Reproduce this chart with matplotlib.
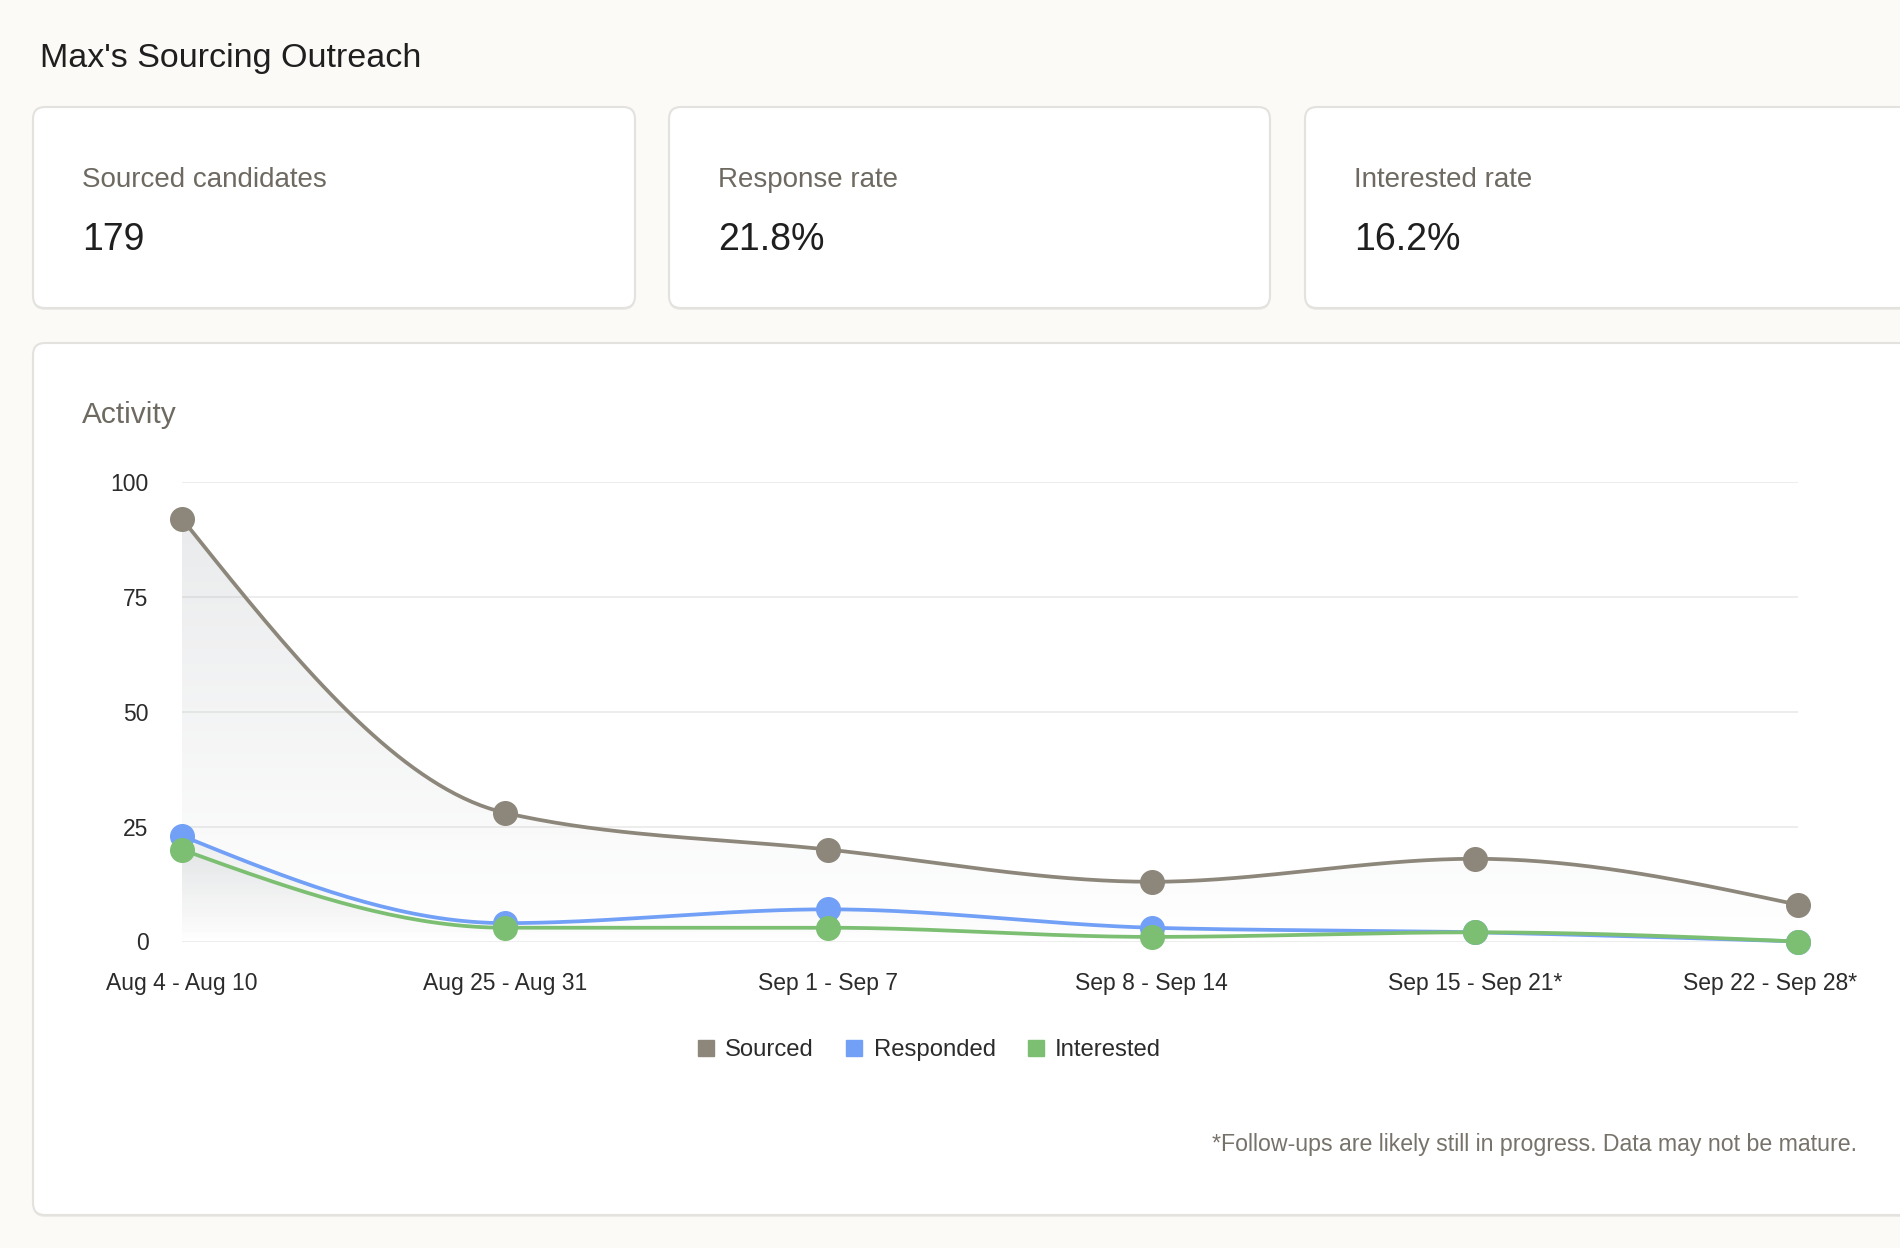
import numpy as np
import matplotlib
matplotlib.use('Agg')
from matplotlib import pyplot as plt
from matplotlib.patches import FancyBboxPatch
from matplotlib.lines import Line2D
from matplotlib.transforms import ScaledTranslation

plt.rcParams['font.family'] = ['Liberation Sans', 'DejaVu Sans']

# data
weeks = ['Aug 4 - Aug 10', 'Aug 25 - Aug 31', 'Sep 1 - Sep 7',
         'Sep 8 - Sep 14', 'Sep 15 - Sep 21*', 'Sep 22 - Sep 28*']
sourced = [92, 28, 20, 13, 18, 8]
responded = [23, 4, 7, 3, 2, 0]
interested = [20, 3, 3, 1, 2, 0]

kpi_labels = ['Sourced candidates', 'Response rate', 'Interested rate']
kpi_values = ['179', '21.8%', '16.2%']

series_names = ['Sourced', 'Responded', 'Interested']
series_colors = ['#8d877b', '#72a0f7', '#7cbf73']

W, H = 1900, 1248
bg = '#fcfaf7'


def sgn(v):
    return -1.0 if v < 0 else 1.0


def monotone(xs, ys, n=40):
    # same smoothing as a d3 'monotoneX' line
    xs = np.asarray(xs, float)
    ys = np.asarray(ys, float)
    npt = len(ys)
    h = np.diff(xs)
    s = np.diff(ys) / h
    m = np.zeros(npt)
    for k in range(1, npt - 1):
        p = (s[k - 1] * h[k] + s[k] * h[k - 1]) / (h[k - 1] + h[k])
        m[k] = (sgn(s[k - 1]) + sgn(s[k])) * min(abs(s[k - 1]), abs(s[k]), 0.5 * abs(p))
    m[0] = (3 * s[0] - m[1]) / 2
    m[-1] = (3 * s[-1] - m[-2]) / 2
    px, py = [], []
    for k in range(npt - 1):
        t = np.linspace(0, 1, n)
        h00 = 2 * t**3 - 3 * t**2 + 1
        h10 = t**3 - 2 * t**2 + t
        h01 = -2 * t**3 + 3 * t**2
        h11 = t**3 - t**2
        px.append(xs[k] + t * h[k])
        py.append(h00 * ys[k] + h10 * h[k] * m[k] + h01 * ys[k + 1] + h11 * h[k] * m[k + 1])
    return np.concatenate(px), np.concatenate(py)


fig = plt.figure(figsize=(W / 100, H / 100), dpi=100)
fig.patch.set_facecolor(bg)

# background layer in pixel coords for the cards
bgax = fig.add_axes([0, 0, 1, 1], zorder=0)
bgax.set_xlim(0, W)
bgax.set_ylim(H, 0)
bgax.axis('off')


def card(x0, y0, x1, y1):
    sh = FancyBboxPatch((x0, y0 + 2), x1 - x0, y1 - y0,
                        boxstyle='round,pad=0,rounding_size=12',
                        fc='#ecebe8', ec='none')
    bgax.add_patch(sh)
    c = FancyBboxPatch((x0, y0), x1 - x0, y1 - y0,
                       boxstyle='round,pad=0,rounding_size=12',
                       fc='white', ec='#e3e2df', lw=1.5)
    bgax.add_patch(c)


bgax.text(40, 59, "Max's Sourcing Outreach", fontsize=24.5, color='#1f1f1f',
          va='center', ha='left')

card_x = [(33, 635), (669, 1270), (1305, 1930)]
for i in range(3):
    x0, x1 = card_x[i]
    card(x0, 107, x1, 308)
    bgax.text(x0 + 49, 180, kpi_labels[i], fontsize=20, color='#6e6a62',
              va='center', ha='left')
    bgax.text(x0 + 49, 240, kpi_values[i], fontsize=27, color='#1f1f1f',
              va='center', ha='left')

card(33, 343, 1930, 1215)
bgax.text(82, 415, 'Activity', fontsize=21.5, color='#6e6a62', va='center', ha='left')
bgax.text(1857, 1145, '*Follow-ups are likely still in progress. Data may not be mature.',
          fontsize=16.7, color='#77736b', va='center', ha='right')

# chart
ax = fig.add_axes([182 / W, 1 - 941.5 / H, (1798 - 182) / W, (941.5 - 482) / H], zorder=1)
ax.set_facecolor('none')
x = np.arange(len(weeks))
all_series = [sourced, responded, interested]
fill_alpha = [0.22, 0.13, 0.13]

for vals, a in zip(all_series, fill_alpha):
    cx, cy = monotone(x, vals)
    top = max(vals)
    poly = ax.fill_between(cx, 0, cy, color='none', lw=0)
    grad = np.zeros((100, 1, 4))
    grad[:, 0, 0] = 0.62
    grad[:, 0, 1] = 0.64
    grad[:, 0, 2] = 0.66
    grad[:, 0, 3] = np.linspace(a, 0.0, 100)
    im = ax.imshow(grad, extent=[0, len(weeks) - 1, 0, top], origin='upper',
                   aspect='auto', zorder=1, interpolation='bilinear')
    im.set_clip_path(poly.get_paths()[0], transform=ax.transData)

for vals, col, name in zip(all_series, series_colors, series_names):
    cx, cy = monotone(x, vals)
    ax.plot(cx, cy, color=col, lw=2.7, zorder=3, solid_capstyle='round', clip_on=False)
    ax.plot(x, vals, 'o', color=col, ms=17, zorder=4, clip_on=False, label=name)

ax.set_xlim(0, len(weeks) - 1)
ax.set_ylim(0, 100)
ax.set_yticks([0, 25, 50, 75, 100])
ax.set_xticks(x)
ax.set_xticklabels(weeks)
ax.grid(axis='y', color='#ececec', lw=1.3)
ax.set_axisbelow(True)
for s in ax.spines.values():
    s.set_visible(False)
ax.tick_params(axis='both', length=0, labelsize=16.5, labelcolor='#2b2b2b')
ax.tick_params(axis='y', pad=24)
ax.tick_params(axis='x', pad=22)

# last label kept inside the card, like the original
last = ax.get_xticklabels()[-1]
last.set_horizontalalignment('right')
last.set_transform(last.get_transform() + ScaledTranslation(0.59, 0, fig.dpi_scale_trans))

handles = [Line2D([], [], marker='s', ls='none', color=c, ms=11) for c in series_colors]
fig.legend(handles, series_names, loc='center', bbox_to_anchor=(930 / W, 1 - 1050 / H),
           ncol=3, frameon=False, fontsize=17.2, handlelength=0.6, handletextpad=0.5,
           columnspacing=1.4, labelcolor='#2b2b2b')

fig.savefig('out.png', dpi=100, facecolor=bg)
